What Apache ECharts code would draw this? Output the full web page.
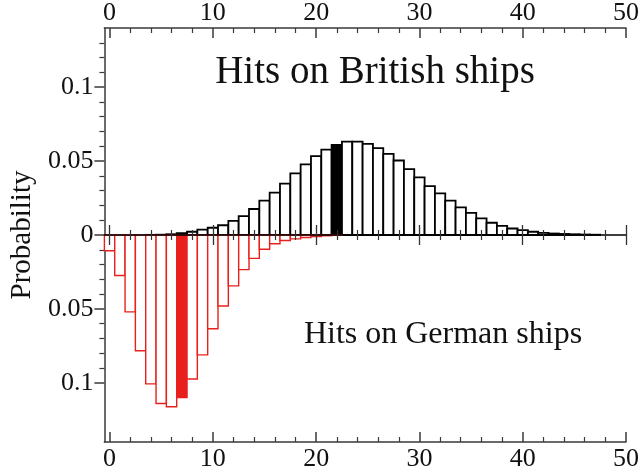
<!DOCTYPE html>
<html>
<head>
<meta charset="utf-8">
<script src="https://cdn.jsdelivr.net/npm/echarts@6/dist/echarts.min.js"></script>
<style>html,body{margin:0;padding:0;background:#fff}#c{width:642px;height:472px}</style>
</head>
<body>
<div id="c"></div>
<script>
// Number of hits (bin centres)
var britishHits = [4,5,6,7,8,9,10,11,12,13,14,15,16,17,18,19,20,21,22,23,24,25,26,27,28,29,30,31,32,33,34,35,36,37,38,39,40,41,42,43,44,45,46,47];
var britishProb = [0.0001,0.0002,0.0005,0.0013,0.0022,0.0036,0.0049,0.0066,0.0095,0.0128,0.0176,0.0233,0.0286,0.0347,0.0417,0.0478,0.0533,0.0577,0.0610,0.0632,0.0632,0.0616,0.0588,0.0549,0.0504,0.0445,0.0390,0.0331,0.0281,0.0233,0.0187,0.0149,0.0112,0.0083,0.0062,0.0044,0.0033,0.0022,0.0015,0.0010,0.0007,0.0005,0.0003,0.0002];
var britishHighlight = 22;

var germanHits = [0,1,2,3,4,5,6,7,8,9,10,11,12,13,14,15,16,17,18,19,20,21,22];
var germanProb = [0.0107,0.0274,0.0520,0.0783,0.1007,0.1140,0.1162,0.1100,0.0974,0.0811,0.0634,0.0480,0.0344,0.0234,0.0158,0.0096,0.0059,0.0037,0.0026,0.0017,0.0010,0.0005,0.0002];
var germanHighlight = 7;

var xMajorTicks = [0,10,20,30,40,50];
var xMinorTicks = [2,4,6,8,12,14,16,18,22,24,26,28,32,34,36,38,42,44,46,48];
var yMajorTicks = [-0.1,-0.05,0,0.05,0.1];
var yMinorTicks = [-0.09,-0.08,-0.07,-0.06,-0.04,-0.03,-0.02,-0.01,0.01,0.02,0.03,0.04,0.06,0.07,0.08,0.09,0.11,0.12,0.13];

var titleBritish = 'Hits on British ships';
var titleGerman = 'Hits on German ships';
var yName = 'Probability';

var FONT = 'Liberation Serif';
var FRAME = '#3a3a3a';
var RED = '#e8201c';

function pairs(xs, ys, sign) {
  return xs.map(function (x, i) { return [x, ys[i] * sign]; });
}

function histRender(color, hi, lw) {
  return function (params, api) {
    var k = api.value(0), v = api.value(1);
    var a = api.coord([k - 0.5, 0]);
    var b = api.coord([k + 0.5, v]);
    return {
      type: 'rect',
      shape: { x: a[0], y: Math.min(a[1], b[1]), width: b[0] - a[0], height: Math.abs(b[1] - a[1]) },
      style: { fill: k === hi ? color : '#fff', stroke: color, lineWidth: lw }
    };
  };
}

function xAx(o) {
  var base = {
    type: 'value', min: -0.5, max: 50, gridIndex: 0,
    splitLine: { show: false },
    axisLabel: { show: false },
    axisLine: { show: false, onZero: false },
    axisTick: { show: false }
  };
  for (var k in o) base[k] = o[k];
  return base;
}

var labelStyle = { fontFamily: FONT, fontSize: 26, color: '#111' };

var option = {
  animation: false,
  backgroundColor: '#fff',
  grid: { left: 95, right: 15, top: 20, bottom: 26, containLabel: false },
  xAxis: [
    xAx({ position: 'bottom',
      axisLine: { show: true, onZero: false, lineStyle: { color: FRAME, width: 1.5 } },
      axisLabel: Object.assign({ show: true, margin: 4, customValues: xMajorTicks }, labelStyle),
      axisTick: { show: true, inside: true, length: 10, customValues: xMajorTicks, lineStyle: { color: FRAME, width: 1.5 } } }),
    xAx({ position: 'bottom',
      axisTick: { show: true, inside: true, length: 5, customValues: xMinorTicks, lineStyle: { color: FRAME, width: 1.2 } } }),
    xAx({ position: 'top',
      axisLine: { show: true, onZero: false, lineStyle: { color: FRAME, width: 1.5 } },
      axisLabel: Object.assign({ show: true, margin: 2, customValues: xMajorTicks }, labelStyle),
      axisTick: { show: true, inside: true, length: 10, customValues: xMajorTicks, lineStyle: { color: FRAME, width: 1.5 } } }),
    xAx({ position: 'top',
      axisTick: { show: true, inside: true, length: 5, customValues: xMinorTicks, lineStyle: { color: FRAME, width: 1.2 } } }),
    xAx({ position: 'bottom', z: 5,
      axisLine: { show: true, onZero: true, onZeroAxisIndex: 0, lineStyle: { color: '#000', width: 1.5 } },
      axisTick: { show: true, inside: true, length: 10, customValues: xMajorTicks, lineStyle: { color: '#333', width: 1.3 } } }),
    xAx({ position: 'bottom', z: 5,
      axisLine: { show: false, onZero: true, onZeroAxisIndex: 0 },
      axisTick: { show: true, inside: false, length: 10, customValues: xMajorTicks, lineStyle: { color: '#333', width: 1.3 } } }),
    xAx({ position: 'bottom', z: 5,
      axisLine: { show: false, onZero: true, onZeroAxisIndex: 0 },
      axisTick: { show: true, inside: true, length: 5, customValues: xMinorTicks, lineStyle: { color: '#333', width: 1.2 } } }),
    xAx({ position: 'bottom', z: 5,
      axisLine: { show: false, onZero: true, onZeroAxisIndex: 0 },
      axisTick: { show: true, inside: false, length: 5, customValues: xMinorTicks, lineStyle: { color: '#333', width: 1.2 } } })
  ],
  yAxis: [
    { type: 'value', min: -0.14, max: 0.14, position: 'left',
      name: yName, nameLocation: 'middle', nameGap: 63,
      nameTextStyle: { fontFamily: FONT, fontSize: 29, color: '#111' },
      splitLine: { show: false },
      axisLine: { show: true, onZero: false, lineStyle: { color: FRAME, width: 1.5 } },
      axisLabel: Object.assign({ show: true, margin: 11, customValues: yMajorTicks,
        formatter: function (v) { return String(Math.abs(v)); } }, labelStyle),
      axisTick: { show: true, inside: false, length: 10, customValues: yMajorTicks, lineStyle: { color: FRAME, width: 1.5 } } },
    { type: 'value', min: -0.14, max: 0.14, position: 'left',
      splitLine: { show: false },
      axisLine: { show: false, onZero: false },
      axisLabel: { show: false },
      axisTick: { show: true, inside: false, length: 5, customValues: yMinorTicks, lineStyle: { color: FRAME, width: 1.2 } } }
  ],
  graphic: [
    { type: 'text', x: 375, y: 73, z: 10, style: { text: titleBritish, font: '39px "Liberation Serif"', fill: '#111', textAlign: 'center', textVerticalAlign: 'middle' } },
    { type: 'text', x: 443, y: 335, z: 10, style: { text: titleGerman, font: '32px "Liberation Serif"', fill: '#111', textAlign: 'center', textVerticalAlign: 'middle' } }
  ],
  series: [
    { type: 'custom', name: 'British', xAxisIndex: 4, yAxisIndex: 0, z: 2,
      renderItem: histRender('#000', britishHighlight, 1.8),
      encode: { x: 0, y: 1 }, data: pairs(britishHits, britishProb, 1) },
    { type: 'custom', name: 'German', xAxisIndex: 4, yAxisIndex: 0, z: 2,
      renderItem: histRender(RED, germanHighlight, 1.4),
      encode: { x: 0, y: 1 }, data: pairs(germanHits, germanProb, -1) }
  ]
};

var chart = echarts.init(document.getElementById('c'), null, { renderer: 'canvas' });
chart.setOption(option);
</script>
</body>
</html>
